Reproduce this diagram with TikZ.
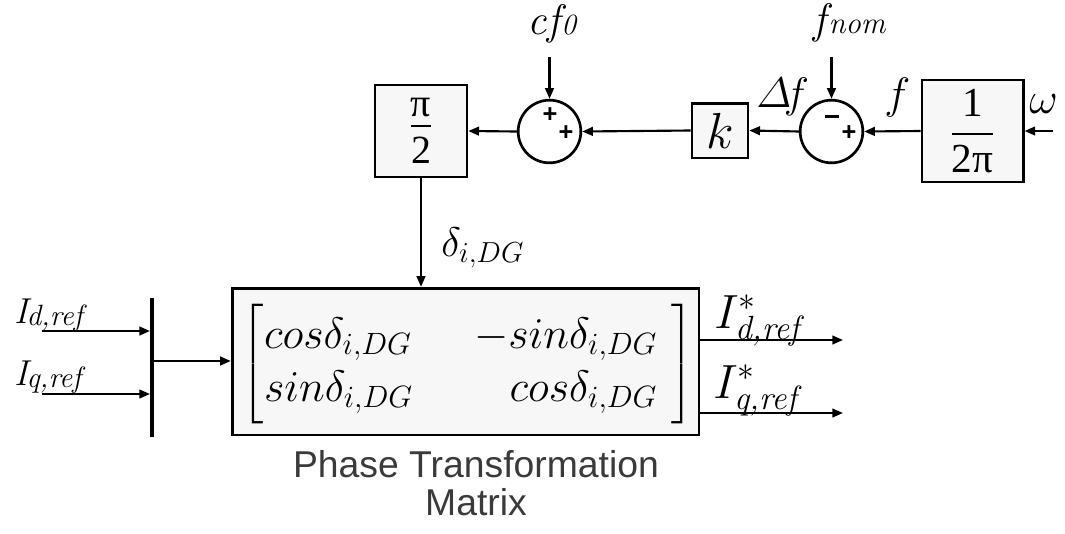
\RequirePackage{fix-cm}
\documentclass[tikz,border=0pt]{standalone}
\usepackage{amsmath}
\usepackage{fontspec}
\setsansfont{Liberation Sans}
\newfontfamily\grk{Liberation Serif}
\usetikzlibrary{arrows.meta}
\definecolor{boxfill}{HTML}{F7F7F7}
\definecolor{captiongray}{HTML}{3A3A3A}
\begin{document}
\begin{tikzpicture}[x=0.75pt,y=-0.75pt,
  blk/.style={draw,line width=2pt,fill=boxfill,inner sep=0pt},
  sumc/.style={draw,circle,line width=2pt,fill=white,minimum size=47pt,inner sep=0pt},
  sig/.style={font=\sffamily\bfseries\fontsize{19}{19}\selectfont,inner sep=0pt},
  lbl/.style={inner sep=0pt,anchor=base west},
  arr/.style={line width=1.6pt,-{Triangle[length=8pt,width=6.5pt]}}
]
\useasboundingbox (0,0) rectangle (1065,533);

% blocks
\node[blk,minimum width=69pt,minimum height=69pt] (pib) at (421,131)
  {\fontsize{30}{36}\selectfont$\dfrac{\raisebox{-6pt}{\grk π}}{\text{\grk 2}}$};
\node[sumc] (s1) at (549.5,131.5) {};
\node[blk,minimum width=42pt,minimum height=41pt] (kb) at (720,130.5)
  {\fontsize{38}{42}\selectfont$k$};
\node[sumc] (s2) at (831.5,131.5) {};
\node[blk,minimum width=76pt,minimum height=76.5pt] (gb) at (972.5,131)
  {\fontsize{31}{36}\selectfont$\dfrac{\text{\grk 1}}{\text{\grk 2π}}$};

% signs
\node[sig] (p1a) at (550,115) {+};
\node[sig] (p1b) at (566,133) {+};
\node[sig] (m2a) at (832,117) {\raisebox{1pt}{\rule{10pt}{2.2pt}}};
\node[sig] (p2b) at (849,133) {+};

% matrix block
\node[blk,minimum width=350pt,minimum height=110pt] (mx) at (465.5,361.5) {};
\node[inner sep=0pt] (mxt) at (468,364)
  {\fontsize{33}{40}\selectfont$\left[\begin{array}{@{}l@{\hspace{46pt}}r@{}}
   cos\delta_{i,DG} & -sin\delta_{i,DG}\\
   sin\delta_{i,DG} & cos\delta_{i,DG}\end{array}\,\,\right]$};

% bar
\coordinate (bt) at (152,298);
\coordinate (bb) at (152,437);
\draw[line width=3.6pt] (bt) -- (bb);
\coordinate (bm) at (152,361);

% labels
\node[lbl] (lcf) at (527,34) {\fontsize{32}{34}\selectfont\itshape c\kern0.5pt f\kern1pt{\fontsize{22}{24}\selectfont 0}};
\node[lbl] (lfn) at (813,33) {\fontsize{32}{34}\selectfont\itshape f\kern2pt{\fontsize{23}{24}\selectfont nom}};
\node[lbl] (ldf) at (756,107) {\fontsize{32}{34}\selectfont$\varDelta\!f$};
\node[lbl] (lf) at (884,108) {\fontsize{33}{34}\selectfont$f$};
\node[lbl] (lw) at (1029,113) {\fontsize{33}{34}\selectfont$\omega$};
\node[lbl] (ldl) at (441,256) {\fontsize{31}{34}\selectfont$\delta_{i,DG}$};
\node[lbl] (lid) at (14,323) {\fontsize{27}{28}\selectfont\itshape I\kern-1pt\raisebox{-2pt}{\fontsize{22}{24}\selectfont d,ref}};
\node[lbl] (liq) at (14,385) {\fontsize{27}{28}\selectfont\itshape I\kern-1pt\raisebox{-2pt}{\fontsize{22}{24}\selectfont q,ref}};
\node[lbl] (lod) at (714,328) {\fontsize{36}{40}\selectfont$I^{*}_{\textit{d,ref}}$};
\node[lbl] (loq) at (713,398) {\fontsize{36}{40}\selectfont$I^{*}_{\textit{q,ref}}$};

% caption
\node[align=center,font=\sffamily\fontsize{28}{28.5}\selectfont,text=captiongray,inner sep=0pt] (cap) at (476,483)
  {Phase Transformation\\Matrix};

% connectors
\coordinate (win) at (1053,131);
\coordinate (fin) at (831.5,57);
\coordinate (cin) at (549.5,57);
\coordinate (id0) at (42,331);
\coordinate (id1) at (150,331);
\coordinate (iq0) at (42,394);
\coordinate (iq1) at (150,394);
\coordinate (od1) at (843,340);
\coordinate (oq1) at (843,413);
\draw[arr] (win) -- (gb.east);
\draw[arr] (gb.west) -- (s2.east);
\draw[arr] (fin) -- (s2.north);
\draw[arr] (s2.west) -- (kb.east);
\draw[arr] (kb.west) -- (s1.east);
\draw[arr] (cin) -- (s1.north);
\draw[arr] (s1.west) -- (pib.east);
\draw[arr] (pib.south) -- (pib.south |- mx.north);
\draw[arr] (id0) -- (id1);
\draw[arr] (iq0) -- (iq1);
\draw[arr] (bm) -- (bm -| mx.west);
\draw[arr] (od1 -| mx.east) -- (od1);
\draw[arr] (oq1 -| mx.east) -- (oq1);
\end{tikzpicture}
\end{document}
